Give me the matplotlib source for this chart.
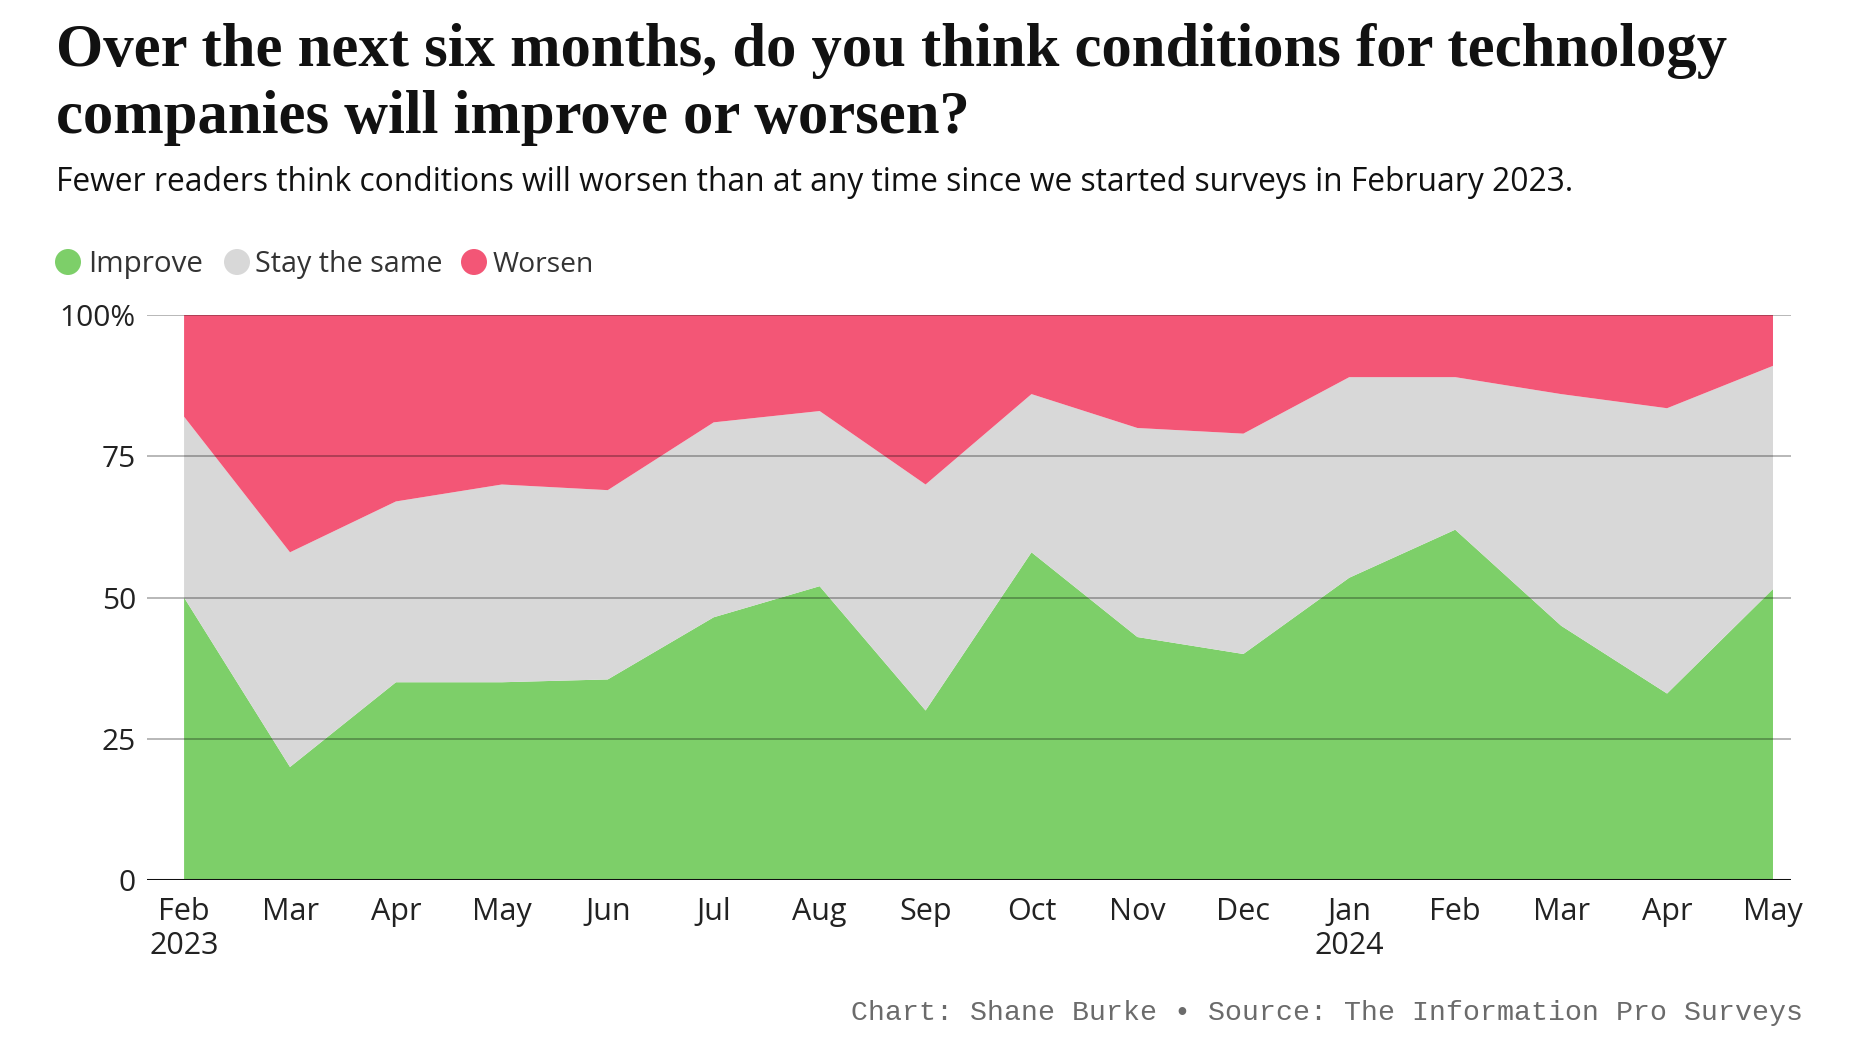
import matplotlib
matplotlib.use("Agg")
import matplotlib.pyplot as plt
from matplotlib.patches import Ellipse
import numpy as np

# ---- data ----
months = ["Feb\n2023", "Mar", "Apr", "May", "Jun", "Jul", "Aug", "Sep", "Oct",
          "Nov", "Dec", "Jan\n2024", "Feb", "Mar", "Apr", "May"]
improve = [50, 20, 35, 35, 35.5, 46.5, 52, 30, 58, 43, 40, 53.5, 62, 45, 33, 51.5]
stay_same = [32, 38, 32, 35, 33.5, 34.5, 31, 40, 28, 37, 39, 35.5, 27, 41, 50.5, 39.5]
worsen = [18, 42, 33, 30, 31, 19, 17, 30, 14, 20, 21, 11, 11, 14, 16.5, 9]
series_names = ["Improve", "Stay the same", "Worsen"]
y_ticks = [0, 25, 50, 75, 100]
y_tick_labels = ["0", "25", "50", "75", "100%"]

title_lines = ["Over the next six months, do you think conditions for technology",
               "companies will improve or worsen?"]
subtitle = "Fewer readers think conditions will worsen than at any time since we started surveys in February 2023."
source = "Chart: Shane Burke \u2022 Source: The Information Pro Surveys"

# ---- style ----
GREEN = "#7dcf69"
GREY = "#d8d8d8"
RED = "#f35676"
colors = [GREEN, GREY, RED]
SANS = ["Open Sans", "DejaVu Sans"]
SERIF = ["Liberation Serif", "DejaVu Serif"]
MONO = ["Liberation Mono", "DejaVu Sans Mono"]

W, H = 1860, 1047
fig = plt.figure(figsize=(W / 100, H / 100), dpi=100)
fig.patch.set_facecolor("white")


def fx(px):
    return px / W


def fy(py):
    return 1 - py / H


renderer = fig.canvas.get_renderer()


def fit_text(t, width):
    fs = t.get_fontsize()
    w = t.get_window_extent(renderer).width
    t.set_fontsize(fs * width / w)


# ---- axes ----
ax_left, ax_right, ax_top, ax_bottom = 147, 1791, 315, 880
ax = fig.add_axes([fx(ax_left), fy(ax_bottom), fx(ax_right - ax_left), (ax_bottom - ax_top) / H])
x = np.arange(len(months))
ax.stackplot(x, improve, stay_same, worsen, colors=colors, linewidth=0, zorder=1)
ax.set_xlim(-0.35, len(months) - 1 + 0.17)
ax.set_ylim(0, 100)
for v in y_ticks[1:]:
    ax.axhline(v, color="black", alpha=0.3, lw=1.3, zorder=3)
ax.axhline(0, color="#111111", lw=2.2, zorder=4)
for s in ax.spines.values():
    s.set_visible(False)
ax.set_yticks(y_ticks, y_tick_labels)
ax.set_xticks(x, months)
ax.tick_params(axis="y", length=0, pad=8, labelsize=21.5, labelcolor="#222222")
ax.tick_params(axis="x", length=0, pad=12, labelsize=22, labelcolor="#222222")
for lab in ax.get_yticklabels() + ax.get_xticklabels():
    lab.set_fontfamily(SANS)
for lab in ax.get_xticklabels():
    lab.set_linespacing(1.18)
ax.set_facecolor("none")

# ---- title / subtitle ----
t1 = fig.text(fx(56), fy(66), title_lines[0], fontsize=40, fontweight="bold",
              family=SERIF, color="#111111", va="baseline", ha="left")
fit_text(t1, 1723 - 56)
t2 = fig.text(fx(56), fy(133), title_lines[1], fontsize=t1.get_fontsize(), fontweight="bold",
              family=SERIF, color="#111111", va="baseline", ha="left")
st = fig.text(fx(56), fy(191), subtitle, fontsize=20, family=SANS, color="#111111",
              va="baseline", ha="left")
fit_text(st, 1568 - 56)

# ---- legend ----
leg_y = 262
leg_items = [(68, 88, 203), (237, 255, 441), (474, 493, 594)]
for (cx, tx, tend), name, c in zip(leg_items, series_names, colors):
    fig.add_artist(Ellipse((fx(cx), fy(leg_y)), 26 / W, 26 / H, transform=fig.transFigure,
                           facecolor=c, edgecolor="none"))
    lt = fig.text(fx(tx), fy(leg_y + 10), name, fontsize=20, family=SANS, color="#333333",
                  va="baseline", ha="left")
    fit_text(lt, tend - tx)

# ---- source ----
src = fig.text(fx(1803), fy(1020), source, fontsize=16, family=MONO, color="#6b6b6b",
               va="baseline", ha="right")
fit_text(src, 1803 - 852)

fig.savefig("out.png", dpi=100, facecolor="white")
